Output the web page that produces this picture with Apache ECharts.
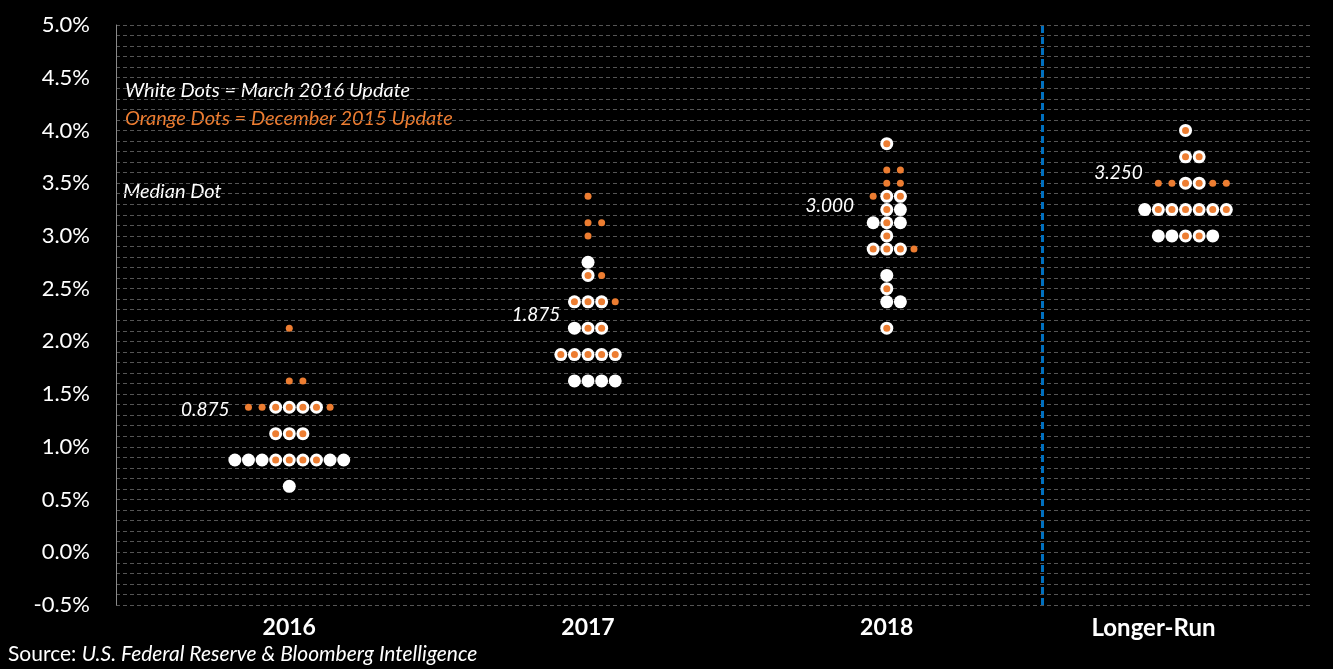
<!DOCTYPE html>
<html>
<head>
<meta charset="utf-8">
<title>FOMC dot plot</title>
<script src="https://cdn.jsdelivr.net/npm/echarts@6/dist/echarts.min.js"></script>
<style>
  html, body { margin: 0; padding: 0; background: #000; }
  #chart { width: 1333px; height: 669px; }
</style>
</head>
<body>
<div id="chart"></div>
<script>
// categories on the x axis
const categories = ["2016", "2017", "2018", "Longer-Run"];

// [category index, rate %, number of dots] - March 2016 projections (white)
const marchDots = [
  [0, 0.625, 1], [0, 0.875, 9], [0, 1.125, 3], [0, 1.375, 4],
  [1, 1.625, 4], [1, 1.875, 5], [1, 2.125, 3], [1, 2.375, 3], [1, 2.625, 1], [1, 2.75, 1],
  [2, 2.125, 1], [2, 2.375, 2], [2, 2.5, 1], [2, 2.625, 1], [2, 2.875, 3],
  [2, 3.0, 1], [2, 3.125, 3], [2, 3.25, 2], [2, 3.375, 2], [2, 3.875, 1],
  [3, 3.0, 5], [3, 3.25, 7], [3, 3.5, 2], [3, 3.75, 2], [3, 4.0, 1],
];

// December 2015 projections (orange)
const decemberDots = [
  [0, 0.875, 4], [0, 1.125, 3], [0, 1.375, 7], [0, 1.625, 2], [0, 2.125, 1],
  [1, 1.875, 5], [1, 2.125, 2], [1, 2.375, 4], [1, 2.625, 2], [1, 3.0, 1], [1, 3.125, 2], [1, 3.375, 1],
  [2, 2.125, 1], [2, 2.5, 1], [2, 2.875, 4], [2, 3.0, 1], [2, 3.125, 1],
  [2, 3.25, 1], [2, 3.375, 3], [2, 3.5, 2], [2, 3.625, 2], [2, 3.875, 1],
  [3, 3.0, 2], [3, 3.25, 6], [3, 3.5, 6], [3, 3.75, 2], [3, 4.0, 1],
];

// median of the March 2016 dots
const medians = [0.875, 1.875, 3.0, 3.25];

const ORANGE = "#ED7D31";
const SLOT = 13.6; // px between neighbouring dots in a row
const FONT = "Lato, 'Open Sans', sans-serif";

// label shifts for the median text boxes (px)
const medianLabelOffset = [[-84, -50], [-52, -40], [-57, -30], [-67, -37]];

// spread the dots of one row side by side
function expand(rows) {
  const out = [];
  rows.forEach(([cat, rate, count]) => {
    const start = -(Math.ceil(count / 2) - 1);
    for (let i = 0; i < count; i++) {
      out.push({ value: [cat, rate], symbolOffset: [(start + i) * SLOT, 0] });
    }
  });
  return out;
}

const chart = echarts.init(document.getElementById("chart"));

const option = {
  backgroundColor: "#000",
  animation: false,
  grid: { left: 116, right: 22, top: 25, bottom: 64 },
  xAxis: {
    type: "value",
    min: -0.58,
    max: 3.42,
    axisLine: { show: false },
    axisTick: { show: false },
    splitLine: { show: false },
    axisLabel: {
      customValues: [0, 1, 2, 3],
      color: "#fff",
      fontFamily: FONT,
      fontWeight: "bold",
      fontSize: 23,
      margin: 11,
      formatter: (v) => (v === 3 ? "{lr|" + categories[v] + "}" : categories[v]),
      rich: {
        lr: { color: "#fff", fontFamily: FONT, fontWeight: "bold", fontSize: 24, padding: [0, 64, 0, 0] },
      },
    },
  },
  yAxis: {
    type: "value",
    min: -0.5,
    max: 5.0,
    interval: 0.5,
    axisLine: { show: true, onZero: false, lineStyle: { color: "#8a8a8a", width: 1 } },
    axisTick: { show: false },
    minorTick: { show: false, splitNumber: 5 },
    splitLine: { show: true, lineStyle: { color: "#555", type: [4, 3], width: 1 } },
    minorSplitLine: { show: true, lineStyle: { color: "#555", type: [4, 3], width: 1 } },
    axisLabel: {
      color: "#fff",
      fontFamily: FONT,
      fontSize: 22,
      margin: 26,
      formatter: (v) => v.toFixed(1) + "%",
    },
  },
  series: [
    {
      name: "March 2016",
      type: "scatter",
      symbolSize: 13,
      itemStyle: { color: "#fff", opacity: 1 },
      z: 2,
      silent: true,
      data: expand(marchDots),
      markLine: {
        silent: true,
        symbol: "none",
        label: { show: false },
        lineStyle: { color: "#0070C0", width: 3, type: [7, 4] },
        data: [{ xAxis: 2.52 }],
      },
    },
    {
      name: "December 2015",
      type: "scatter",
      symbolSize: 7,
      itemStyle: { color: ORANGE, opacity: 1 },
      z: 3,
      silent: true,
      data: expand(decemberDots),
    },
    {
      name: "Median",
      type: "scatter",
      symbolSize: 1,
      itemStyle: { color: "rgba(0,0,0,0)", opacity: 1 },
      z: 4,
      silent: true,
      data: medians.map((m, i) => ({
        value: [i, m],
        label: {
          show: true,
          position: "inside",
          offset: medianLabelOffset[i],
          formatter: m.toFixed(3),
          color: "#fff",
          opacity: 1,
          fontFamily: FONT,
          fontStyle: "italic",
          fontSize: 19,
        },
      })),
    },
  ],
  graphic: [
    {
      type: "text", left: 125, top: 81,
      style: { text: "White Dots = March 2016 Update", fill: "#fff", font: "italic 20px " + FONT },
    },
    {
      type: "text", left: 125, top: 109,
      style: { text: "Orange Dots = December 2015 Update", fill: ORANGE, font: "italic 20px " + FONT },
    },
    {
      type: "text", left: 123, top: 182,
      style: { text: "Median Dot", fill: "#fff", font: "italic 20px " + FONT },
    },
    {
      type: "text", left: 8, top: 644,
      style: {
        text: "{n|Source: }{i|U.S. Federal Reserve & Bloomberg Intelligence}",
        rich: {
          n: { fill: "#fff", fontFamily: FONT, fontSize: 21 },
          i: { fill: "#fff", fontFamily: FONT, fontSize: 21, fontStyle: "italic" },
        },
      },
    },
  ],
};

chart.setOption(option);
window.addEventListener("resize", () => chart.resize());
</script>
</body>
</html>
